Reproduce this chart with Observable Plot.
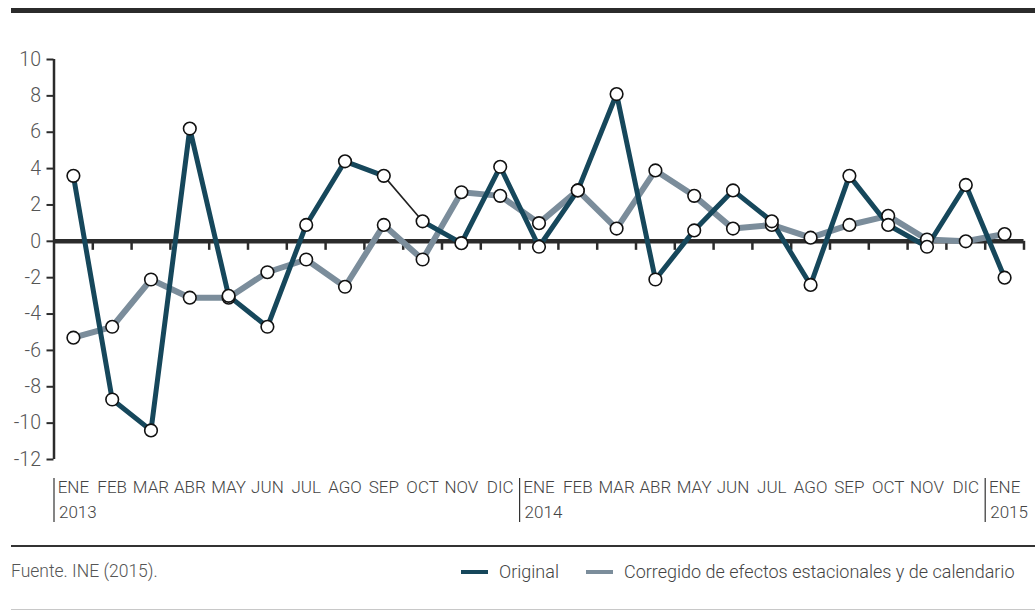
<!DOCTYPE html>
<html>
<head>
<meta charset="utf-8">
<script src="https://cdn.jsdelivr.net/npm/d3@7"></script>
<script src="https://cdn.jsdelivr.net/npm/@observablehq/plot@0.6"></script>
<style>
  body { margin: 0; background: #fff; font-family: Roboto, sans-serif; font-weight: 300; }
  #wrap { position: relative; width: 1035px; height: 611px; overflow: hidden; }
  #chart { position: absolute; left: 0; top: 0; }
  .bar-top { position: absolute; left: 11px; right: 0; top: 8px; height: 5px; background: #2b2b2b; }
  .rule-mid { position: absolute; left: 11px; right: 0; top: 545px; height: 2px; background: #333; }
  .rule-bot { position: absolute; left: 11px; right: 0; top: 609px; height: 1px; background: #c8c8c8; }
  .source { position: absolute; left: 11px; top: 561px; font-size: 17.5px; color: #555; }
  .legend { position: absolute; top: 561px; font-size: 18px; color: #444; display: flex; align-items: center; }
  .swatch { display: inline-block; width: 27px; height: 4px; margin-right: 11px; }
</style>
</head>
<body>
<div id="wrap">
  <div id="chart"></div>
  <div class="bar-top"></div>
  <div class="rule-mid"></div>
  <div class="source">Fuente. INE (2015).</div>
  <div class="legend" style="left:461px"><span class="swatch" style="background:#16475b"></span>Original</div>
  <div class="legend" style="left:586px"><span class="swatch" style="background:#7b8d9b"></span>Corregido de efectos estacionales y de calendario</div>
  <div class="rule-bot"></div>
</div>
<script>
const monthLabels = ["ENE","FEB","MAR","ABR","MAY","JUN","JUL","AGO","SEP","OCT","NOV","DIC",
                     "ENE","FEB","MAR","ABR","MAY","JUN","JUL","AGO","SEP","OCT","NOV","DIC",
                     "ENE"];
const yearLabels = ["2013","2014","2015"];
const yearStarts = [0, 12, 24];
const original  = [3.6, -8.7, -10.4, 6.2, -3.0, -4.7, 0.9, 4.4, 3.6, 1.1, -0.1, 4.1,
                   -0.3, 2.8, 8.1, -2.1, 0.6, 2.8, 1.1, -2.4, 3.6, 0.9, -0.3, 3.1,
                   -2.0];
const corregido = [-5.3, -4.7, -2.1, -3.1, -3.1, -1.7, -1.0, -2.5, 0.9, -1.0, 2.7, 2.5,
                   1.0, 2.8, 0.7, 3.9, 2.5, 0.7, 0.9, 0.2, 0.9, 1.4, 0.1, 0.0,
                   0.4];
const yTicks = [-12, -10, -8, -6, -4, -2, 0, 2, 4, 6, 8, 10];

const idx = d3.range(monthLabels.length);
const origData = idx.map(i => ({i, v: original[i]}));
const corrData = idx.map(i => ({i, v: corregido[i]}));
const mids = idx.map(i => i + 0.5);
const xDomain = [-0.5, monthLabels.length - 0.5];
const yDomain = [yTicks[0], yTicks[yTicks.length - 1]];

const ORIG = "#16475b", CORR = "#7b8d9b", INK = "#2b2b2b";

const plot = Plot.plot({
  width: 1035,
  height: 535,
  marginLeft: 53.5,
  marginRight: 11.5,
  marginTop: 59,
  marginBottom: 76,
  style: { fontFamily: "Roboto, sans-serif", fontWeight: 300, background: "transparent" },
  x: { domain: xDomain, axis: null },
  y: { domain: yDomain, label: null },
  marks: [
    Plot.axisY({ ticks: yTicks, tickFormat: d => String(d), tickSize: 7, tickPadding: 6, label: null,
                 fontSize: 19.5, stroke: INK, strokeWidth: 2, fill: "#555" }),
    Plot.ruleX([xDomain[0]], { stroke: INK, strokeWidth: 2.5 }),
    Plot.ruleY([0], { stroke: INK, strokeWidth: 4.5 }),
    Plot.ruleX(mids, { x: d => d, y1: 0, y2: 0, insetBottom: -9, stroke: INK, strokeWidth: 2.5 }),
    // month and year labels
    Plot.text(idx, { x: i => i, text: i => monthLabels[i], frameAnchor: "bottom", dy: 33,
                     fontSize: 17, fill: "#444" }),
    Plot.text(yearStarts, { x: i => i - 0.5, text: (d, k) => yearLabels[k], frameAnchor: "bottom",
                     dy: 58, dx: 5, textAnchor: "start", fontSize: 17, fill: "#444" }),
    Plot.ruleX(yearStarts, { x: i => i - 0.5, y1: yDomain[0], y2: yDomain[0],
                     insetTop: 19, insetBottom: -63, stroke: "#333", strokeWidth: 1.2 }),
    // series
    Plot.line(corrData, { x: "i", y: "v", stroke: CORR, strokeWidth: 6 }),
    Plot.line(origData.slice(0, 9), { x: "i", y: "v", stroke: ORIG, strokeWidth: 5 }),
    Plot.line(origData.slice(9), { x: "i", y: "v", stroke: ORIG, strokeWidth: 5 }),
    Plot.line(origData.slice(8, 10), { x: "i", y: "v", stroke: "#222", strokeWidth: 1.6 }),
    Plot.dot(corrData, { x: "i", y: "v", r: 6.3, fill: "white", stroke: "#111", strokeWidth: 1.6 }),
    Plot.dot(origData, { x: "i", y: "v", r: 6.3, fill: "white", stroke: "#111", strokeWidth: 1.6 })
  ]
});
document.getElementById("chart").appendChild(plot);
</script>
</body>
</html>
